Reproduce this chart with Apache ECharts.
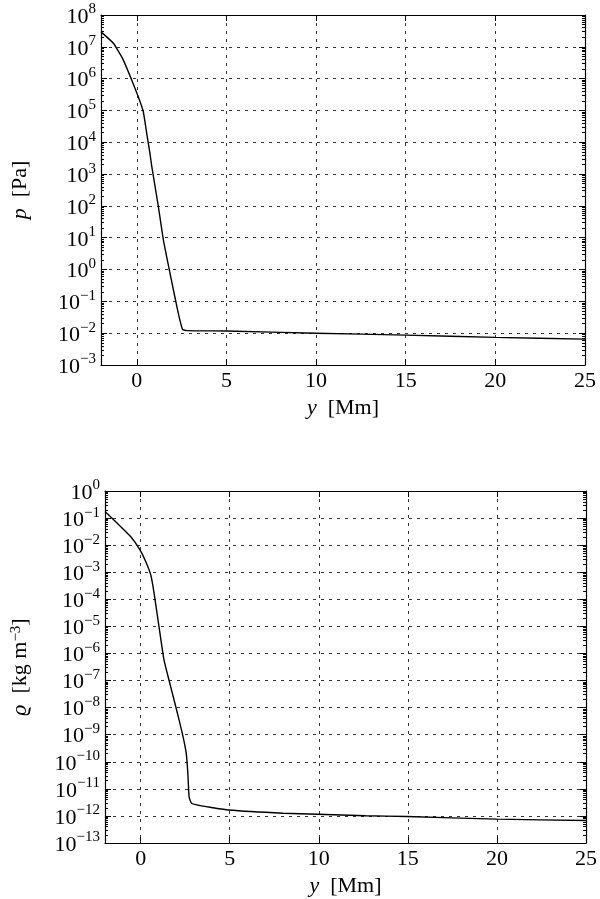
<!DOCTYPE html>
<html>
<head>
<meta charset="utf-8">
<script src="https://cdn.jsdelivr.net/npm/echarts@6/dist/echarts.min.js"></script>
<style>
html,body{margin:0;padding:0;background:#fff;}
#chart{width:600px;height:899px;}
</style>
</head>
<body>
<div id="chart"></div>
<script>
// ---- data ----
const heightP = [-2, -1.31, -0.76, -0.29, 0.08, 0.36, 0.55, 0.73, 0.83, 1.20, 1.48, 1.85, 2.31, 2.55, 2.8, 5, 10, 15, 20, 25];
const pressure = [2.95e7, 1.29e7, 3.89e6, 9.12e5, 2.69e5, 9.12e4, 1.91e4, 4.47e3, 1.78e3, 95.5, 8.51, 0.759, 0.0427, 0.0132, 0.0120, 0.0117, 0.0100, 0.0087, 0.0074, 0.0065];
const heightRho = [-2, -1.31, -0.55, -0.03, 0.29, 0.57, 0.75, 1.03, 1.31, 1.59, 1.97, 2.34, 2.56, 2.65, 2.72, 2.86, 3.35, 3.91, 4.92, 7.99, 9.94, 12.63, 14.92, 20, 25];
const density = [0.174, 0.0646, 0.0204, 6.6e-3, 2.45e-3, 7.9e-4, 1.78e-4, 9.8e-6, 5.75e-7, 1.05e-7, 1.1e-8, 1.12e-9, 2.04e-10, 3.8e-11, 5.1e-12, 2.95e-12, 2.4e-12, 2.09e-12, 1.66e-12, 1.26e-12, 1.15e-12, 1.02e-12, 9.5e-13, 7.6e-13, 6.8e-13];
const xTicks = [0, 5, 10, 15, 20, 25];
const pExponents = [-3, -2, -1, 0, 1, 2, 3, 4, 5, 6, 7, 8];
const rhoExponents = [-13, -12, -11, -10, -9, -8, -7, -6, -5, -4, -3, -2, -1, 0];

// ---- helpers ----
const FONT = "'Liberation Serif', 'DejaVu Serif', serif";
function minorTicks(exps) {
  const out = [];
  for (let i = 0; i < exps.length - 1; i++) {
    for (let k = 2; k <= 9; k++) out.push(exps[i] + Math.log10(k));
  }
  return out;
}
function expLabel(v) {
  const e = Math.round(v);
  return '{b|10}{s|' + (e < 0 ? '\u2212' + (-e) : String(e)) + '}';
}
const labelRich = {
  b: { fontFamily: FONT, fontSize: 22, color: '#000', lineHeight: 26, verticalAlign: 'bottom' },
  s: { fontFamily: FONT, fontSize: 15, color: '#000', lineHeight: 15, verticalAlign: 'top' }
};
const nameRich = {
  i: { fontFamily: FONT, fontSize: 22, fontStyle: 'italic', color: '#000' },
  n: { fontFamily: FONT, fontSize: 22, color: '#000' },
  sup: { fontFamily: FONT, fontSize: 15, color: '#000', verticalAlign: 'top', lineHeight: 15 }
};
const gridLine = { show: true, lineStyle: { color: '#333', width: 1, type: [3, 5] } };
const frame = { show: true, onZero: false, lineStyle: { color: '#000', width: 1.2 } };
const noLine = { show: false, onZero: false };

function xAxes(gi, nameGap) {
  return [
    {
      gridIndex: gi, type: 'value', position: 'bottom', min: -2, max: 25,
      axisLine: frame,
      axisTick: { show: true, inside: true, length: 6, customValues: xTicks, lineStyle: { color: '#000' } },
      axisLabel: { show: true, customValues: xTicks, fontFamily: FONT, fontSize: 22, color: '#000', margin: 5 },
      splitLine: gridLine,
      name: '{i|y}{n|  [Mm]}', nameLocation: 'middle', nameGap: nameGap,
      nameTextStyle: { rich: nameRich }
    },
    {
      gridIndex: gi, type: 'value', position: 'top', min: -2, max: 25,
      axisLine: frame,
      axisTick: { show: true, inside: true, length: 6, customValues: xTicks, lineStyle: { color: '#000' } },
      axisLabel: { show: false }, splitLine: { show: false }
    }
  ];
}
function yAxes(gi, exps, name, nameGap) {
  const mn = exps[0], mx = exps[exps.length - 1];
  const minor = minorTicks(exps);
  return [
    {
      gridIndex: gi, type: 'value', position: 'left', min: mn, max: mx, interval: 1,
      axisLine: frame,
      axisTick: { show: true, inside: true, length: 6, lineStyle: { color: '#000' } },
      axisLabel: { show: true, formatter: expLabel, rich: labelRich, margin: 5 },
      splitLine: gridLine,
      name: name, nameLocation: 'middle', nameRotate: 90, nameGap: nameGap,
      nameTextStyle: { rich: nameRich }
    },
    {
      gridIndex: gi, type: 'value', position: 'right', min: mn, max: mx, interval: 1,
      axisLine: frame,
      axisTick: { show: true, inside: true, length: 6, lineStyle: { color: '#000' } },
      axisLabel: { show: false }, splitLine: { show: false }
    },
    {
      gridIndex: gi, type: 'value', position: 'left', min: mn, max: mx,
      axisLine: noLine,
      axisTick: { show: true, inside: true, length: 3, customValues: minor, lineStyle: { color: '#000' } },
      axisLabel: { show: false }, splitLine: { show: false }
    },
    {
      gridIndex: gi, type: 'value', position: 'right', min: mn, max: mx,
      axisLine: noLine,
      axisTick: { show: true, inside: true, length: 3, customValues: minor, lineStyle: { color: '#000' } },
      axisLabel: { show: false }, splitLine: { show: false }
    }
  ];
}

const pData = heightP.map((h, i) => [h, Math.log10(pressure[i])]);
const rhoData = heightRho.map((h, i) => [h, Math.log10(density[i])]);

const chart = echarts.init(document.getElementById('chart'), null, { renderer: 'canvas' });
chart.setOption({
  backgroundColor: '#fff',
  animation: false,
  grid: [
    { left: 101, top: 15, width: 484, height: 350, containLabel: false },
    { left: 105, top: 491, width: 484, height: 352, containLabel: false }
  ],
  xAxis: [].concat(xAxes(0, 32), xAxes(1, 32)),
  yAxis: [].concat(
    yAxes(0, pExponents, '{i|p}{n|  [Pa]}', 70),
    yAxes(1, rhoExponents, '{i|\u03F1}{n|  [kg m}{sup|\u22123}{n|]}', 74)
  ),
  series: [
    {
      type: 'line', xAxisIndex: 0, yAxisIndex: 0, data: pData, showSymbol: false,
      smooth: 0.15, lineStyle: { color: '#000', width: 1.4 }, clip: true
    },
    {
      type: 'line', xAxisIndex: 2, yAxisIndex: 4, data: rhoData, showSymbol: false,
      smooth: 0.15, lineStyle: { color: '#000', width: 1.4 }, clip: true
    }
  ]
});
</script>
</body>
</html>
